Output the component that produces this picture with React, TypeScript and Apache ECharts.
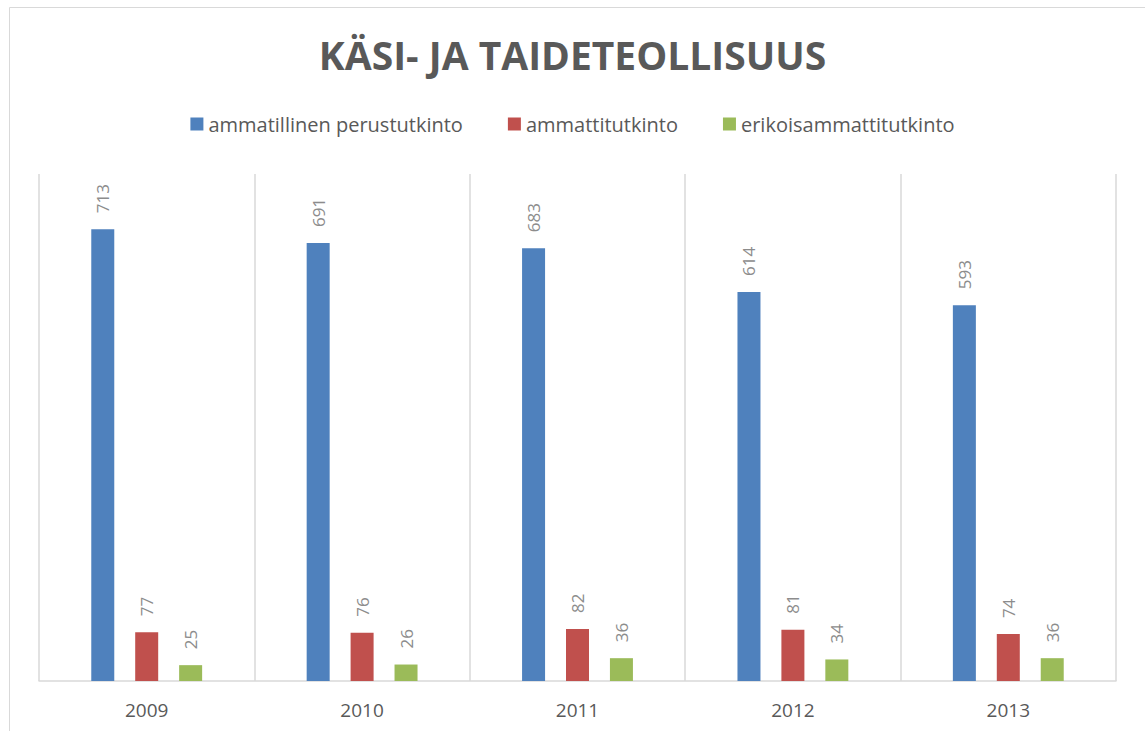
import React, { useEffect, useRef } from "react";
import * as echarts from "echarts";

const categories = ["2009", "2010", "2011", "2012", "2013"];
const seriesNames = ["ammatillinen perustutkinto", "ammattitutkinto", "erikoisammattitutkinto"];
const perustutkinto = [713, 691, 683, 614, 593];
const ammattitutkinto = [77, 76, 82, 81, 74];
const erikoisammattitutkinto = [25, 26, 36, 34, 36];
const colors = ["#4F81BD", "#C0504D", "#9BBB59"];

const FONT = "'Open Sans', 'Noto Sans', sans-serif";

export default function App() {
  const ref = useRef<HTMLDivElement>(null);
  useEffect(() => {
    if (!ref.current) return;
    const chart = echarts.init(ref.current, undefined, { renderer: "svg" });
    const values = [perustutkinto, ammattitutkinto, erikoisammattitutkinto];
    chart.setOption({
      animation: false,
      backgroundColor: "#ffffff",
      title: {
        text: "KÄSI- JA TAIDETEOLLISUUS",
        left: "center",
        top: 30,
        textStyle: {
          fontFamily: FONT,
          fontSize: 39,
          fontWeight: "bold",
          color: "#595959",
        },
      },
      legend: {
        top: 109,
        left: "center",
        itemWidth: 13,
        itemHeight: 13,
        itemGap: 45,
        icon: "rect",
        textStyle: { fontFamily: FONT, fontSize: 20, color: "#595959" },
        data: seriesNames,
      },
      graphic: [
        {
          type: "rect",
          shape: { x: 9.5, y: 7.5, width: 1300, height: 900 },
          style: { fill: "none", stroke: "#d9d9d9", lineWidth: 1 },
          silent: true,
          z: -1,
        },
      ],
      grid: { left: 39, right: 29, top: 174, bottom: 50, containLabel: false },
      xAxis: {
        type: "category",
        data: categories,
        axisLine: { lineStyle: { color: "#d9d9d9", width: 1.5 } },
        axisTick: { show: false },
        splitLine: { show: true, lineStyle: { color: "#d9d9d9", width: 1.5 } },
        axisLabel: {
          fontFamily: FONT,
          fontSize: 19,
          color: "#595959",
          margin: 19,
        },
      },
      yAxis: {
        type: "value",
        min: 0,
        max: 800,
        interval: 100,
        show: false,
        splitLine: { show: false },
      },
      series: seriesNames.map((name, i) => ({
        name,
        type: "bar",
        data: values[i],
        barWidth: 23,
        barGap: "91%",
        itemStyle: { color: colors[i] },
        label: {
          show: true,
          position: "top",
          rotate: 90,
          align: "left",
          verticalAlign: "middle",
          distance: 16,
          fontFamily: FONT,
          fontSize: 17,
          color: "#8c8c8c",
        },
      })),
    });
    return () => chart.dispose();
  }, []);
  return (
    <div
      ref={ref}
      style={{ position: "fixed", left: 0, top: 0, width: 1145, height: 731 }}
    />
  );
}
